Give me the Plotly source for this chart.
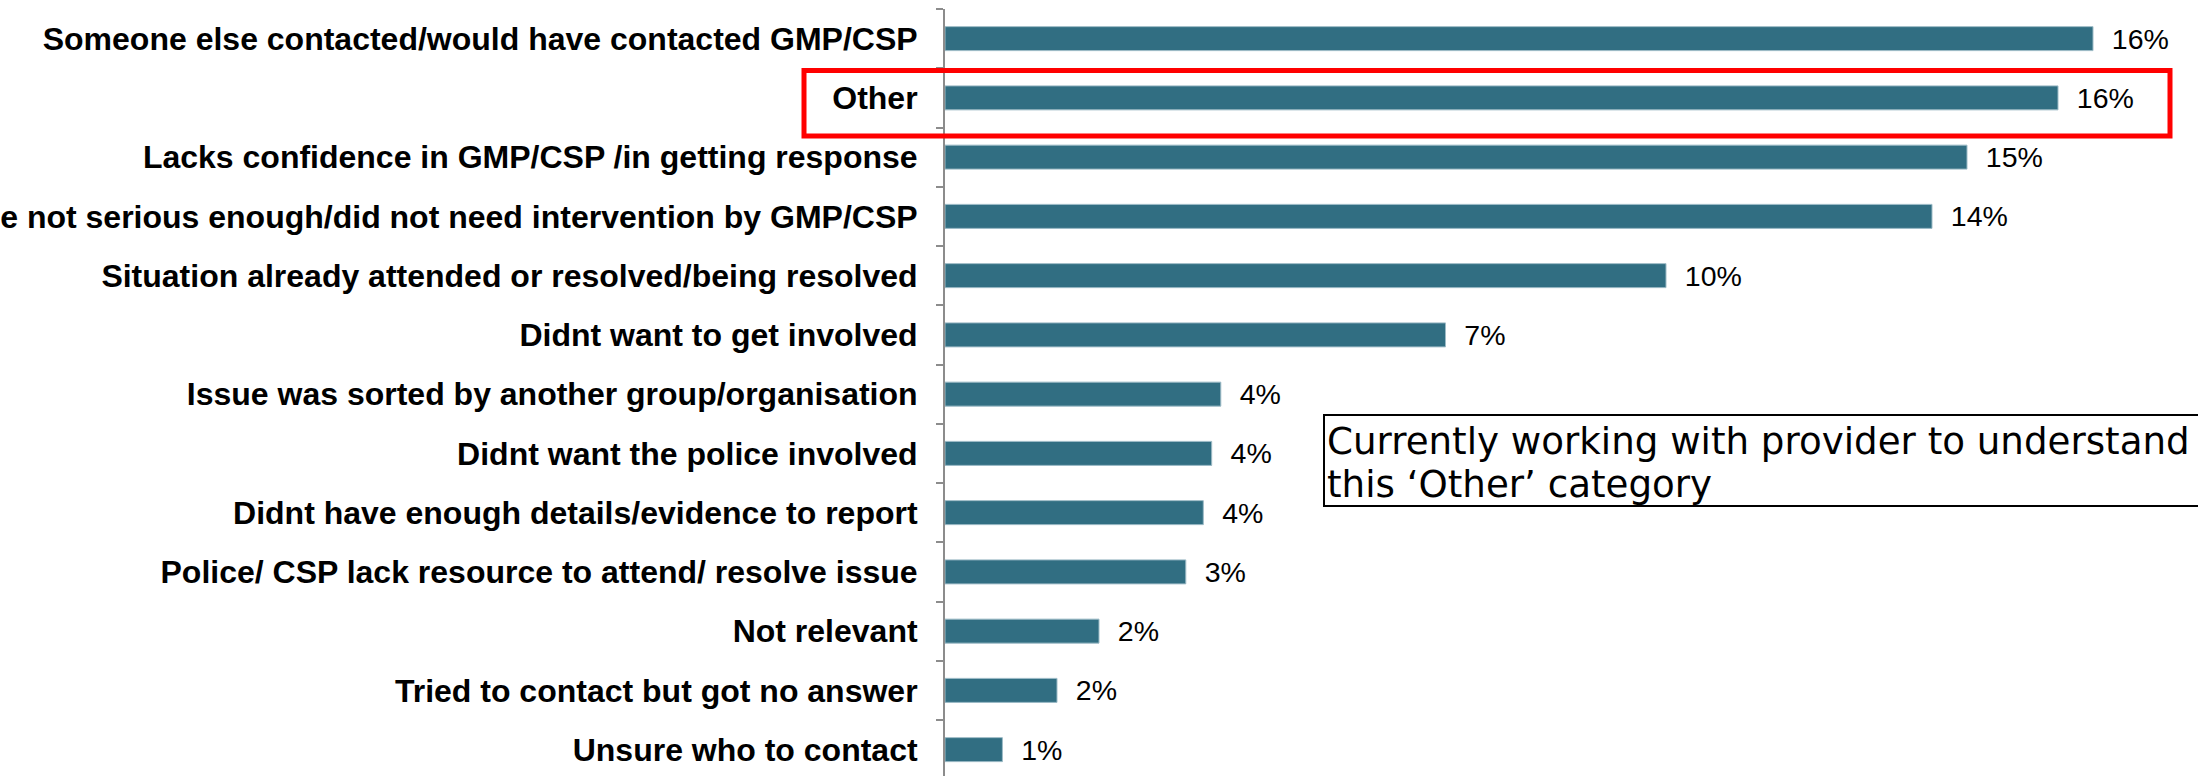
import plotly.graph_objects as go

# reasons for not contacting GMP/CSP, top to bottom as on the slide
categories = [
    "Someone else contacted/would have contacted GMP/CSP",
    "Other",
    "Lacks confidence in GMP/CSP /in getting response",
    "Issue not serious enough/did not need intervention by GMP/CSP",
    "Situation already attended or resolved/being resolved",
    "Didnt want to get involved",
    "Issue was sorted by another group/organisation",
    "Didnt want the police involved",
    "Didnt have enough details/evidence to report",
    "Police/ CSP lack resource to attend/ resolve issue",
    "Not relevant",
    "Tried to contact but got no answer",
    "Unsure who to contact",
]
# share of respondents (%)
values = [16.4, 15.9, 14.6, 14.1, 10.3, 7.15, 3.94, 3.81, 3.69, 3.44, 2.2, 1.6, 0.82]
# labels as printed next to the bars
pct_labels = ["16%", "16%", "15%", "14%", "10%", "7%", "4%", "4%", "4%", "3%", "2%", "2%", "1%"]

note_lines = [
    "Currently working with provider to understand",
    "this \u2018Other\u2019 category",
]

W, H = 2198, 776
M_L, M_R, M_T, M_B = 945, 0, 9, 0
PLOT_W = W - M_L - M_R
PLOT_H = H - M_T - M_B

BAR_COLOR = "#316E82"
AXIS_GREY = "#8C8C8C"
LABEL_FONT = "Arial, 'Liberation Sans', sans-serif"
NOTE_FONT = "Verdana, 'DejaVu Sans', sans-serif"


def px_x(px):
    return (px - M_L) / PLOT_W


def px_y(py):
    return 1 - (py - M_T) / PLOT_H


fig = go.Figure(
    go.Bar(
        x=values,
        y=categories,
        orientation="h",
        marker=dict(color=BAR_COLOR, line=dict(color="#9DBBC6", width=1)),
        text=["\u00a0\u00a0" + t for t in pct_labels],
        textposition="outside",
        constraintext="none",
        cliponaxis=False,
        textfont=dict(family=LABEL_FONT, size=28.5, color="#000000"),
        hoverinfo="skip",
    )
)

# highlight box around the "Other" row
fig.add_shape(
    type="rect", xref="paper", yref="paper",
    x0=px_x(804), x1=px_x(2170), y0=px_y(136), y1=px_y(70.5),
    line=dict(color="#FF0000", width=5),
)

# note box, runs off the right edge like the slide
fig.add_shape(
    type="rect", xref="paper", yref="paper",
    x0=px_x(1324), x1=px_x(2220), y0=px_y(506), y1=px_y(415),
    line=dict(color="#000000", width=2),
    fillcolor="rgba(255,255,255,0)",
)
for i, line in enumerate(note_lines):
    fig.add_annotation(
        text=line, xref="paper", yref="paper",
        x=px_x(1325), y=px_y(417 + 43 * i),
        xanchor="left", yanchor="top",
        showarrow=False, align="left",
        font=dict(family=NOTE_FONT, size=37.2, color="#000000"),
    )

fig.update_layout(
    width=W,
    height=H,
    margin=dict(l=M_L, r=M_R, t=M_T, b=M_B, autoexpand=False),
    paper_bgcolor="white",
    plot_bgcolor="white",
    showlegend=False,
    bargap=0.595,
)
fig.update_xaxes(
    visible=False,
    range=[0, PLOT_W / 70.0],
)
fig.update_yaxes(
    type="category",
    range=[12.445, -0.5],
    automargin=False,
    showline=True,
    linecolor=AXIS_GREY,
    linewidth=2,
    ticks="outside",
    tickson="boundaries",
    ticklen=7,
    tickwidth=1.5,
    tickcolor=AXIS_GREY,
    ticklabelstandoff=19,
    showgrid=False,
    zeroline=False,
    tickfont=dict(family=LABEL_FONT, size=32, color="#000000", weight="bold"),
)

# page body has a default 8px margin; drop it so the figure sits at 0,0
fig.write_html(
    "out.html",
    config={"displayModeBar": False},
    post_script="document.body.style.margin = '0px';",
)
